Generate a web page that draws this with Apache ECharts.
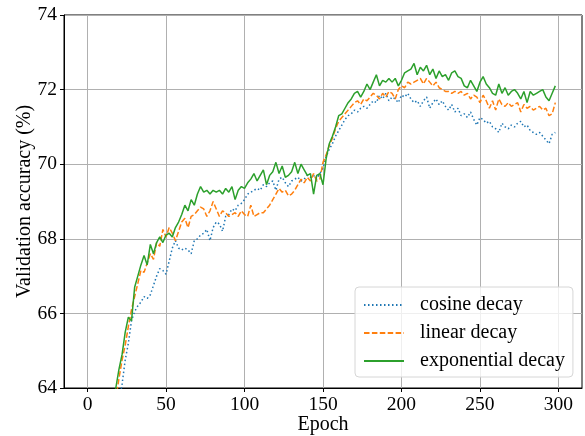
<!DOCTYPE html>
<html>
<head>
<meta charset="utf-8">
<script src="https://cdn.jsdelivr.net/npm/echarts@6/dist/echarts.min.js"></script>
<style>html,body{margin:0;padding:0;background:#fff}#c{width:585px;height:436px}</style>
</head>
<body>
<div id="c"></div>
<script>
// Epochs sampled every 2 from 12 to 298
const epochFirst = 12, epochStepSize = 2;
const xTicks = [0, 50, 100, 150, 200, 250, 300];
const yTicks = [64, 66, 68, 70, 72, 74];

const cosineDecay = [
61.0,61.8,62.5,63.1,63.6,64.1,64.75,65.2,65.8,66.05,66.2,66.3,66.45,66.4,66.5,66.75,67.0,67.2,67.15,67.05,
67.4,67.75,67.95,67.75,67.7,67.75,67.7,67.6,67.95,68.0,68.1,68.15,68.25,67.95,68.3,68.45,68.4,68.2,68.6,68.65,
68.8,68.75,68.9,68.95,69.05,69.2,69.25,69.3,69.35,69.3,69.45,69.4,69.5,69.55,69.3,69.6,69.65,69.5,69.4,69.55,
69.6,69.65,69.55,69.6,69.7,69.65,69.7,69.6,69.75,69.9,70.2,70.4,70.55,70.75,70.9,71.05,71.2,71.3,71.35,71.45,
71.4,71.5,71.55,71.5,71.6,71.7,71.65,71.85,71.75,71.9,71.7,71.8,71.75,71.65,71.85,71.8,71.9,71.75,71.65,71.7,
71.55,71.7,71.8,71.5,71.65,71.75,71.6,71.7,71.55,71.45,71.6,71.4,71.5,71.3,71.35,71.25,71.4,71.2,71.05,71.25,
71.2,71.1,71.15,71.0,70.95,70.85,71.1,71.0,70.95,71.05,71.0,71.1,71.15,71.0,71.05,70.9,70.85,70.8,70.85,70.75,
70.65,70.55,70.8,70.85
];
const linearDecay = [
62.0,62.6,63.2,63.7,64.25,64.75,65.15,65.65,66.1,66.45,66.8,67.15,67.1,67.35,67.6,67.45,67.9,67.8,68.25,68.05,
68.3,68.15,67.95,68.2,68.45,68.55,68.3,68.6,68.65,68.75,68.85,68.8,68.6,68.75,69.0,68.8,68.6,68.75,68.7,68.6,
68.65,68.7,68.6,68.75,68.65,68.6,68.9,68.6,68.65,68.7,68.7,68.8,68.9,69.05,69.2,69.35,69.25,69.3,69.15,69.2,
69.3,69.45,69.6,69.5,69.65,69.55,69.75,69.55,69.6,70.05,70.25,70.5,70.7,70.95,71.15,71.25,71.35,71.45,71.55,71.65,
71.7,71.6,71.75,71.7,71.8,71.9,71.85,71.75,71.9,71.8,71.95,71.9,71.75,72.0,72.1,72.05,72.2,72.15,72.2,72.25,
72.3,72.15,72.3,72.2,72.1,72.2,72.05,72.0,71.95,71.95,71.9,71.95,71.9,71.95,71.85,71.9,71.75,71.85,71.8,71.65,
71.85,71.7,71.5,71.7,71.45,71.75,71.6,71.55,71.65,71.55,71.6,71.65,71.4,71.6,71.5,71.55,71.45,71.5,71.55,71.45,
71.5,71.3,71.35,71.65
];
const exponentialDecay = [
62.6,63.1,63.6,64.0,64.5,64.9,65.5,65.9,65.8,66.7,67.0,67.3,67.55,67.3,67.85,67.6,67.9,68.05,67.9,68.1,
68.15,68.05,68.3,68.45,68.65,68.9,68.75,69.05,68.9,69.2,69.4,69.25,69.3,69.2,69.3,69.25,69.3,69.2,69.35,69.25,
69.4,69.05,69.3,69.4,69.35,69.5,69.6,69.75,69.55,69.7,69.85,69.45,69.7,69.8,70.05,69.75,69.95,69.65,69.7,69.8,
70.05,69.75,70.0,69.85,69.7,69.75,69.2,69.7,69.75,69.45,70.15,70.55,70.75,71.0,71.3,71.35,71.5,71.65,71.75,71.9,
71.95,71.8,71.95,72.15,72.0,72.2,72.4,72.1,72.25,72.2,72.3,72.2,72.3,72.1,72.25,72.45,72.5,72.55,72.7,72.4,
72.6,72.5,72.65,72.4,72.55,72.3,72.5,72.35,72.4,72.25,72.45,72.5,72.35,72.3,72.1,72.05,72.25,72.1,71.95,72.2,
72.35,72.15,72.05,71.9,71.85,72.15,71.9,72.05,71.85,71.95,72.0,71.9,71.75,71.95,71.65,71.95,71.85,71.9,71.95,72.0,
71.8,71.7,71.9,72.1
];

const epochs = cosineDecay.map((_, i) => epochFirst + i * epochStepSize);
const pairs = vals => vals.map((v, i) => [epochs[i], v]);

const FONT = 'Liberation Serif';
const chart = echarts.init(document.getElementById('c'), null, {renderer: 'canvas'});
chart.setOption({
  animation: false,
  backgroundColor: '#fff',
  textStyle: {fontFamily: FONT},
  grid: {left: 64, top: 15, right: 3, bottom: 48, outerBoundsMode: 'none', containLabel: false,
         show: true, borderColor: '#000', borderWidth: 1, backgroundColor: 'transparent'},
  xAxis: {
    type: 'value', min: -15, max: 315,
    name: 'Epoch', nameLocation: 'middle', nameGap: 27, nameMoveOverlap: false,
    nameTextStyle: {fontFamily: FONT, fontSize: 20, color: '#000'},
    axisLine: {show: true, onZero: false, lineStyle: {color: '#000', width: 1}},
    axisTick: {show: true, inside: false, length: 4, customValues: xTicks, lineStyle: {color: '#000'}},
    axisLabel: {customValues: xTicks, margin: 7, fontFamily: FONT, fontSize: 19.5, color: '#000'},
    splitLine: {show: true, lineStyle: {color: '#b0b0b0', width: 1}}
  },
  yAxis: {
    type: 'value', min: 64, max: 74, interval: 2,
    name: 'Validation accuracy (%)', nameLocation: 'middle', nameGap: 29, nameMoveOverlap: false,
    nameTextStyle: {fontFamily: FONT, fontSize: 20, color: '#000'},
    axisLine: {show: true, onZero: false, lineStyle: {color: '#000', width: 1}},
    axisTick: {show: true, inside: false, length: 4, lineStyle: {color: '#000'}},
    axisLabel: {margin: 7, fontFamily: FONT, fontSize: 19.5, color: '#000', formatter: v => yTicks.includes(v) ? String(v) : ''},
    splitLine: {show: true, lineStyle: {color: '#b0b0b0', width: 1}}
  },
  legend: {
    orient: 'vertical', left: 355, top: 287,
    itemWidth: 40, itemHeight: 14, itemGap: 8,
    padding: [8, 8, 6, 8],
    backgroundColor: 'rgba(255,255,255,0.8)',
    borderColor: '#d6d6d6', borderWidth: 1, borderRadius: 4,
    itemStyle: {opacity: 0},
    textStyle: {fontFamily: FONT, fontSize: 20, color: '#000', padding: [0, 0, 0, 11]},
    data: ['cosine decay', 'linear decay', 'exponential decay']
  },
  series: [
    {name: 'cosine decay', type: 'line', data: pairs(cosineDecay), symbol: 'none', clip: true,
     lineStyle: {color: '#1f77b4', width: 1.5, type: [1.5, 2.5]}, itemStyle: {color: '#1f77b4'}},
    {name: 'linear decay', type: 'line', data: pairs(linearDecay), symbol: 'none', clip: true,
     lineStyle: {color: '#ff7f0e', width: 1.5, type: [5.5, 2.4]}, itemStyle: {color: '#ff7f0e'}},
    {name: 'exponential decay', type: 'line', data: pairs(exponentialDecay), symbol: 'none', clip: true,
     lineStyle: {color: '#2ca02c', width: 1.5}, itemStyle: {color: '#2ca02c'}}
  ]
});
</script>
</body>
</html>
